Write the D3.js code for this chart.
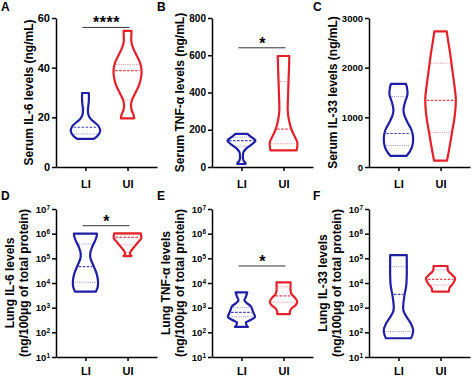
<!DOCTYPE html>
<html>
<head>
<meta charset="utf-8">
<script src="https://cdn.jsdelivr.net/npm/d3@7"></script>
<style>
  body { margin: 0; background: #fff; }
  text { font-family: Arial, "Liberation Sans", sans-serif; font-weight: bold; }
</style>
</head>
<body>
<svg width="474" height="376"></svg>
<script>
// groups on every x axis
var groups = ["LI", "UI"];

// violin outlines: [value, relative density]
// quartile arrays: [Q1, median, Q3]
var aLI = [[11.3,8],[12.5,12],[14.5,14.7],[16.5,13],[18,9],[19.5,5],[21,3],[23,2.5],[25,3],[27,3.4],[29.8,3.4]];
var aUI = [[19.6,6.7],[21,6],[23,4],[25,3.5],[27,4.5],[30,8],[33,11.5],[36,13.5],[39,14],[42,12.5],[45,9],[48,5.5],[50.5,3.8],[53,3.8],[54.8,4]];
var aLIq = [13.3, 16, 23.7];
var aUIq = [27, 38.8, 41.3];

var bLI = [[16,4],[22,4],[30,2.5],[45,1.5],[60,1.5],[80,2],[100,5],[120,10],[142,14],[160,10],[178,6]];
var bUI = [[89,13],[110,13.7],[133,13.7],[160,11.5],[196,8.3],[250,5.5],[302,4.2],[380,4.5],[461,5],[540,5.5],[596,5.8]];
var bLIq = [112, 142, 160];
var bUIq = [125, 203, 459];

var cLI = [[223,8],[300,11],[400,13.5],[580,14.7],[750,13],[900,9],[1050,5.8],[1150,5],[1300,6.5],[1460,9],[1600,8.5],[1675,7.5]];
var cUI = [[130,6.5],[400,9],[700,11.5],[1000,14],[1350,15.3],[1700,13.5],[2000,11.5],[2300,9.5],[2550,7.5],[2730,6.2]];
var cLIq = [432, 675, 1420];
var cUIq = [696, 1340, 2090];

var dLI = [[4.5e3,10.5],[7.1e3,12.3],[1.26e4,12.5],[2.5e4,11],[5e4,8],[1e5,5],[1.6e5,4.8],[2.8e5,6.5],[5e5,9.5],[8e5,11.3],[1e6,11.5]];
var dUI = [[1.23e5,4],[1.58e5,2.2],[2e5,3.5],[3.2e5,7.5],[5e5,11.5],[6.5e5,13.8],[8.9e5,13.5],[1.02e6,13.3]];
var dLIq = [1.07e4, 4.6e4, 3.8e5];
var dUIq = [3.5e5, 7.1e5, 8.9e5];

var eLI = [[166,6.5],[200,5],[251,4.5],[316,9],[417,13.5],[562,12.5],[794,11],[1120,9.5],[1580,5],[2000,3],[2820,4.5],[4170,5.8]];
var eUI = [[550,6.3],[708,6.5],[933,8],[1260,12],[1740,13.7],[2510,11.5],[3550,8],[5010,7],[7940,7],[10700,7]];
var eLIq = [427, 646, 1000];
var eUIq = [1660, 3020, 7080];

var fLI = [[57.5,12.5],[79.4,14],[126,14.7],[224,12.5],[398,8.5],[708,5.2],[1000,4.7],[1580,5],[3160,6],[7940,7.8],[2e4,8.3],[6.3e4,8.3],[1.35e5,8.3]];
var fUI = [[4470,8.3],[6310,9],[8910,12],[1.26e4,14],[1.58e4,14.5],[2.24e4,11],[3.16e4,7.5],[3.98e4,7],[4.9e4,7]];
var fLIq = [107, 3470, 4.57e4];
var fUIq = [8300, 1.41e4, 3.39e4];

// tick values
var ticksA = [0, 20, 40, 60];
var ticksB = [0, 200, 400, 600, 800];
var ticksC = [0, 1000, 2000, 3000];
var ticksLog = [1e1, 1e2, 1e3, 1e4, 1e5, 1e6, 1e7];

// significance bars: [value, label]
var sigA = [56.2, "****"];
var sigB = [640, "*"];
var sigD = [2.1e6, "*"];
var sigE = [4.9e4, "*"];

var titles = {
  A: ["Serum IL-6 levels (ng/mL)"],
  B: ["Serum TNF-\u03b1 levels (ng/mL)"],
  C: ["Serum IL-33 levels (ng/mL)"],
  D: ["Lung IL-6 levels", "(ng/100\u03bcg of total protein)"],
  E: ["Lung TNF-\u03b1 levels", "(ng/100\u03bcg of total protein)"],
  F: ["Lung IL-33 levels", "(ng/100\u03bcg of total protein)"]
};

var svg = d3.select("svg");
var colors = ["#1e1ea6", "#e6202a"];

// layout
var axisX = [56, 212, 369];
var rowY = [[167, 18], [357, 209]];
var letterX = [1, 157, 313];
var letterY = [11, 200];
var xPad = [9, 6];

var panels = [
  {id:"A", col:0, row:0, scale:"lin", domain:[0,60],   ticks:ticksA, fs:11,  tOff:[27], v:[aLI,aUI], q:[aLIq,aUIq], sig:sigA},
  {id:"B", col:1, row:0, scale:"lin", domain:[0,800],  ticks:ticksB, fs:10,  tOff:[32], v:[bLI,bUI], q:[bLIq,bUIq], sig:sigB},
  {id:"C", col:2, row:0, scale:"lin", domain:[0,3000], ticks:ticksC, fs:9.5, tOff:[36], v:[cLI,cUI], q:[cLIq,cUIq], sig:null},
  {id:"D", col:0, row:1, scale:"log", domain:[1e1,1e7], ticks:ticksLog, fs:9.5, tOff:[46,32], v:[dLI,dUI], q:[dLIq,dUIq], sig:sigD},
  {id:"E", col:1, row:1, scale:"log", domain:[1e1,1e7], ticks:ticksLog, fs:9.5, tOff:[46,32], v:[eLI,eUI], q:[eLIq,eUIq], sig:sigE},
  {id:"F", col:2, row:1, scale:"log", domain:[1e1,1e7], ticks:ticksLog, fs:9.5, tOff:[46,32], v:[fLI,fUI], q:[fLIq,fUIq], sig:null}
];

var wScale = d3.scaleLinear().domain([0, 15]).range([0, 15]);

panels.forEach(function(p) {
  var ox = axisX[p.col];
  var yr = rowY[p.row];
  var y = (p.scale == "log" ? d3.scaleLog() : d3.scaleLinear()).domain(p.domain).range(yr);
  var x = d3.scalePoint().domain(groups).range([0, 101]).padding(0.7);

  var g = svg.append("g").attr("transform", "translate(" + ox + ",0)");

  // y axis
  var yAxis = d3.axisLeft(y).tickValues(p.ticks).tickSize(4).tickPadding(2).tickSizeOuter(0);
  if (p.scale == "log") yAxis.tickFormat(function() { return ""; });
  else yAxis.tickFormat(d3.format("d"));
  var ya = g.append("g").call(yAxis);
  ya.selectAll("path, line").attr("stroke", "#000").attr("stroke-width", 1.5);
  ya.selectAll("text").attr("font-size", p.fs).attr("fill", "#000").attr("font-family", null);
  if (p.scale == "log") {
    ya.selectAll("text").each(function(d) {
      var t = d3.select(this);
      t.append("tspan").text("10");
      t.append("tspan").attr("font-size", 6.5).attr("dy", "-0.45em").text(Math.round(Math.log10(d)));
    });
  }

  // x axis
  var xa = g.append("g").attr("transform", "translate(0," + yr[0] + ")")
    .call(d3.axisBottom(x).tickSize(4).tickPadding(xPad[p.row]).tickSizeOuter(0));
  xa.selectAll("path, line").attr("stroke", "#000").attr("stroke-width", 1.5);
  xa.selectAll("text").attr("font-size", 11).attr("fill", "#000").attr("font-family", null);

  // axis title
  var ymid = (yr[0] + yr[1]) / 2;
  titles[p.id].forEach(function(t, i) {
    g.append("text")
      .attr("transform", "translate(" + (-p.tOff[i]) + "," + ymid + ") rotate(-90)")
      .attr("text-anchor", "middle").attr("dy", "0.35em")
      .attr("font-size", 12).attr("fill", "#000")
      .text(t);
  });

  // violins
  p.v.forEach(function(prof, k) {
    var cx = x(groups[k]);
    var col = colors[k];
    var area = d3.area()
      .y(function(d) { return y(d[0]); })
      .x0(function(d) { return cx - wScale(d[1]); })
      .x1(function(d) { return cx + wScale(d[1]); })
      .curve(d3.curveCatmullRom);
    g.append("path").attr("d", area(prof))
      .attr("fill", "none").attr("stroke", col)
      .attr("stroke-width", 2.2).attr("stroke-linejoin", "round");

    // half width at a given pixel height
    var half = d3.scaleLinear()
      .domain(prof.map(function(d) { return y(d[0]); }))
      .range(prof.map(function(d) { return wScale(d[1]); }))
      .clamp(true);
    p.q[k].forEach(function(v, i) {
      var yy = y(v), hw = Math.max(half(yy) - 1.6, 0.5);
      g.append("line")
        .attr("x1", cx - hw).attr("x2", cx + hw)
        .attr("y1", yy).attr("y2", yy)
        .attr("stroke", col)
        .attr("stroke-width", i == 1 ? 1.2 : 1)
        .attr("stroke-opacity", i == 1 ? 0.85 : 0.5)
        .attr("stroke-dasharray", i == 1 ? "2.5,1.5" : "1,1.2");
    });
  });

  // significance
  if (p.sig) {
    var sy = y(p.sig[0]);
    g.append("line")
      .attr("x1", x("LI") - 3).attr("x2", x("UI") + 2)
      .attr("y1", sy).attr("y2", sy)
      .attr("stroke", "#333").attr("stroke-width", 1);
    g.append("text")
      .attr("x", (x("LI") + x("UI")) / 2).attr("y", sy + 1)
      .attr("text-anchor", "middle").attr("font-size", 16)
      .attr("letter-spacing", 0.5).attr("fill", "#000")
      .text(p.sig[1]);
  }

  // panel letter
  svg.append("text")
    .attr("x", letterX[p.col]).attr("y", letterY[p.row])
    .attr("font-size", 12).attr("fill", "#000")
    .text(p.id);
});
</script>
</body>
</html>
